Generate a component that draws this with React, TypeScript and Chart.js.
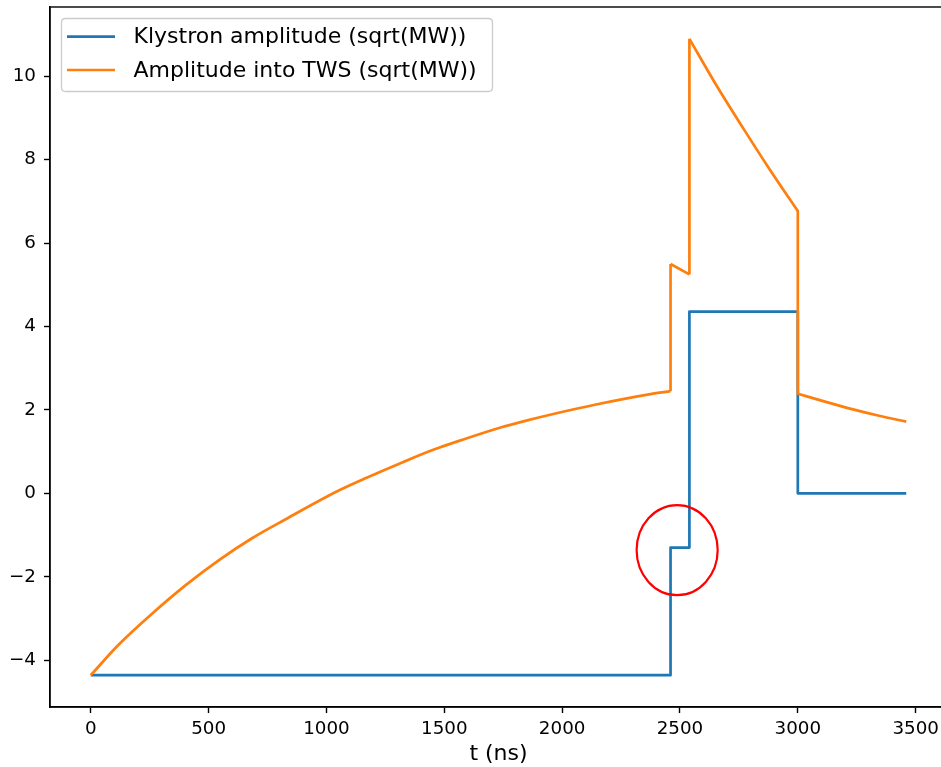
import React, { useEffect, useRef } from "react";
import { Chart, registerables } from "chart.js";

Chart.register(...registerables);

// Klystron drive amplitude (sqrt(MW)) vs time (ns), with vertical steps as repeated times
const klystronTimes = [0, 2460, 2460, 2540, 2540, 3000, 3000, 3460];
const klystronValues = [-4.36, -4.36, -1.3, -1.3, 4.36, 4.36, 0, 0];

// Amplitude delivered into the travelling-wave structure (sqrt(MW)); repeated times are jumps
const twsTimes = [
  0, 120, 261, 403, 544, 686, 827, 1046, 1173, 1329, 1456, 1569, 1739, 1852,
  2022, 2134, 2375, 2460, 2460, 2540, 2540, 2655, 2770, 2885, 3000, 3000,
  3115, 3230, 3345, 3460,
];
const twsValues = [
  -4.36, -3.62, -2.88, -2.2, -1.6, -1.07, -0.62, 0.05, 0.38, 0.76, 1.05, 1.27,
  1.58, 1.75, 1.98, 2.12, 2.38, 2.45, 5.5, 5.25, 10.9, 9.78, 8.74, 7.73, 6.77,
  2.39, 2.2, 2.02, 1.86, 1.72,
];

const xTicks = [0, 500, 1000, 1500, 2000, 2500, 3000, 3500];
const yTicks = [-4, -2, 0, 2, 4, 6, 8, 10];

const seriesLabels = ["Klystron amplitude (sqrt(MW))", "Amplitude into TWS (sqrt(MW))"];
const seriesColors = ["#1f77b4", "#ff7f0e"];

// Highlight ellipse around the intermediate klystron step (data units)
const markCenter = { t: 2488, v: -1.36 };
const markRadius = { t: 172, v: 1.08 };

const FONT = '"DejaVu Sans", sans-serif';
const LINE_W = 2.7;

function dataRange(values: number[]) {
  const lo = Math.min(...values);
  const hi = Math.max(...values);
  const pad = (hi - lo) * 0.05;
  return { min: lo - pad, max: hi + pad };
}

// Split a series at repeated times: smooth pieces between jumps, straight vertical jumps
function splitAtJumps(times: number[], values: number[]) {
  const smooth: { x: number; y: number }[][] = [];
  const jumps: { x: number; y: number }[][] = [];
  let cur: { x: number; y: number }[] = [];
  times.forEach((t, i) => {
    const p = { x: t, y: values[i] };
    if (i > 0 && t === times[i - 1]) {
      smooth.push(cur);
      jumps.push([cur[cur.length - 1], p]);
      cur = [p];
    } else {
      cur.push(p);
    }
  });
  smooth.push(cur);
  return { smooth, jumps };
}

export default function App() {
  const canvasRef = useRef<HTMLCanvasElement | null>(null);

  useEffect(() => {
    const canvas = canvasRef.current;
    if (!canvas) return;

    const xr = dataRange([...klystronTimes, ...twsTimes]);
    const yr = dataRange([...klystronValues, ...twsValues]);

    const tws = splitAtJumps(twsTimes, twsValues);
    const twsDatasets = [
      ...tws.smooth.map((pts) => ({
        data: pts,
        borderColor: seriesColors[1],
        borderWidth: LINE_W,
        pointRadius: 0,
        cubicInterpolationMode: "monotone" as const,
        borderJoinStyle: "round" as const,
        order: 0,
      })),
      ...tws.jumps.map((pts) => ({
        data: pts,
        borderColor: seriesColors[1],
        borderWidth: LINE_W,
        pointRadius: 0,
        tension: 0,
        borderJoinStyle: "round" as const,
        order: 0,
      })),
    ];

    const frameAndLegend = {
      id: "frameAndLegend",
      afterDatasetsDraw(chart: any) {
        const { ctx, chartArea, scales } = chart;
        ctx.save();
        // axes frame
        ctx.strokeStyle = "#000";
        ctx.lineWidth = 1.4;
        ctx.strokeRect(chartArea.left, chartArea.top, chartArea.right - chartArea.left, chartArea.bottom - chartArea.top);

        // red ellipse marking the pre-step
        const cx = scales.x.getPixelForValue(markCenter.t);
        const cy = scales.y.getPixelForValue(markCenter.v);
        const rx = Math.abs(scales.x.getPixelForValue(markCenter.t + markRadius.t) - cx);
        const ry = Math.abs(scales.y.getPixelForValue(markCenter.v + markRadius.v) - cy);
        ctx.beginPath();
        ctx.ellipse(cx, cy, rx, ry, 0, 0, Math.PI * 2);
        ctx.strokeStyle = "#ff0000";
        ctx.lineWidth = 2.2;
        ctx.stroke();

        // legend
        const lx = 61.5, ly = 18.5, lw = 431, lh = 73, r = 4;
        ctx.beginPath();
        ctx.moveTo(lx + r, ly);
        ctx.lineTo(lx + lw - r, ly);
        ctx.quadraticCurveTo(lx + lw, ly, lx + lw, ly + r);
        ctx.lineTo(lx + lw, ly + lh - r);
        ctx.quadraticCurveTo(lx + lw, ly + lh, lx + lw - r, ly + lh);
        ctx.lineTo(lx + r, ly + lh);
        ctx.quadraticCurveTo(lx, ly + lh, lx, ly + lh - r);
        ctx.lineTo(lx, ly + r);
        ctx.quadraticCurveTo(lx, ly, lx + r, ly);
        ctx.closePath();
        ctx.fillStyle = "rgba(255,255,255,0.8)";
        ctx.fill();
        ctx.strokeStyle = "#cccccc";
        ctx.lineWidth = 1.3;
        ctx.stroke();

        const rows = [36.7, 70];
        ctx.font = `22px ${FONT}`;
        ctx.textBaseline = "middle";
        ctx.textAlign = "left";
        seriesLabels.forEach((label, i) => {
          ctx.beginPath();
          ctx.moveTo(67, rows[i]);
          ctx.lineTo(115, rows[i]);
          ctx.strokeStyle = seriesColors[i];
          ctx.lineWidth = LINE_W;
          ctx.stroke();
          ctx.fillStyle = "#000";
          ctx.fillText(label, 133.5, rows[i] + 1);
        });
        ctx.restore();
      },
    };

    const chart = new Chart(canvas, {
      type: "line",
      data: {
        datasets: [
          {
            label: seriesLabels[0],
            data: klystronTimes.map((t, i) => ({ x: t, y: klystronValues[i] })),
            borderColor: seriesColors[0],
            borderWidth: LINE_W,
            pointRadius: 0,
            tension: 0,
            borderJoinStyle: "round",
            order: 1,
          },
          ...twsDatasets,
        ] as any,
      },
      options: {
        animation: false,
        responsive: false,
        maintainAspectRatio: false,
        devicePixelRatio: 1,
        layout: { padding: { left: 0, top: 7, right: 13, bottom: 0 } },
        plugins: { legend: { display: false }, tooltip: { enabled: false } },
        scales: {
          x: {
            type: "linear",
            min: xr.min,
            max: xr.max,
            afterBuildTicks: (scale: any) => {
              scale.ticks = xTicks.map((v) => ({ value: v }));
            },
            afterFit: (scale: any) => {
              scale.height = 60;
              scale.paddingLeft = 0;
              scale.paddingRight = 0;
            },
            grid: {
              drawOnChartArea: false,
              drawTicks: true,
              tickLength: 6,
              tickWidth: 1.4,
              tickColor: "#000",
            },
            border: { display: true, color: "#000", width: 1.4 },
            ticks: {
              color: "#000",
              font: { family: FONT, size: 18.3 },
              padding: 5,
              maxRotation: 0,
              autoSkip: false,
              callback: (v: any) => String(v),
            },
            title: {
              display: true,
              text: "t (ns)",
              color: "#000",
              font: { family: FONT, size: 22 },
              padding: { top: 0, bottom: 0 },
            },
          },
          y: {
            type: "linear",
            min: yr.min,
            max: yr.max,
            afterBuildTicks: (scale: any) => {
              scale.ticks = yTicks.map((v) => ({ value: v }));
            },
            afterFit: (scale: any) => {
              scale.width = 50;
              scale.paddingTop = 0;
              scale.paddingBottom = 0;
            },
            grid: {
              drawOnChartArea: false,
              drawTicks: true,
              tickLength: 6,
              tickWidth: 1.4,
              tickColor: "#000",
            },
            border: { display: true, color: "#000", width: 1.4 },
            ticks: {
              color: "#000",
              font: { family: FONT, size: 18.3 },
              padding: 8,
              autoSkip: false,
              callback: (v: any) => (v < 0 ? "\u2212" + Math.abs(v) : String(v)),
            },
          },
        },
      },
      plugins: [frameAndLegend],
    });

    return () => chart.destroy();
  }, []);

  return (
    <div
      style={{
        position: "fixed",
        left: 0,
        top: 0,
        width: 941,
        height: 767,
        overflow: "hidden",
        background: "#fff",
      }}
    >
      <canvas ref={canvasRef} width={960} height={767} style={{ width: 960, height: 767, display: "block" }} />
    </div>
  );
}
